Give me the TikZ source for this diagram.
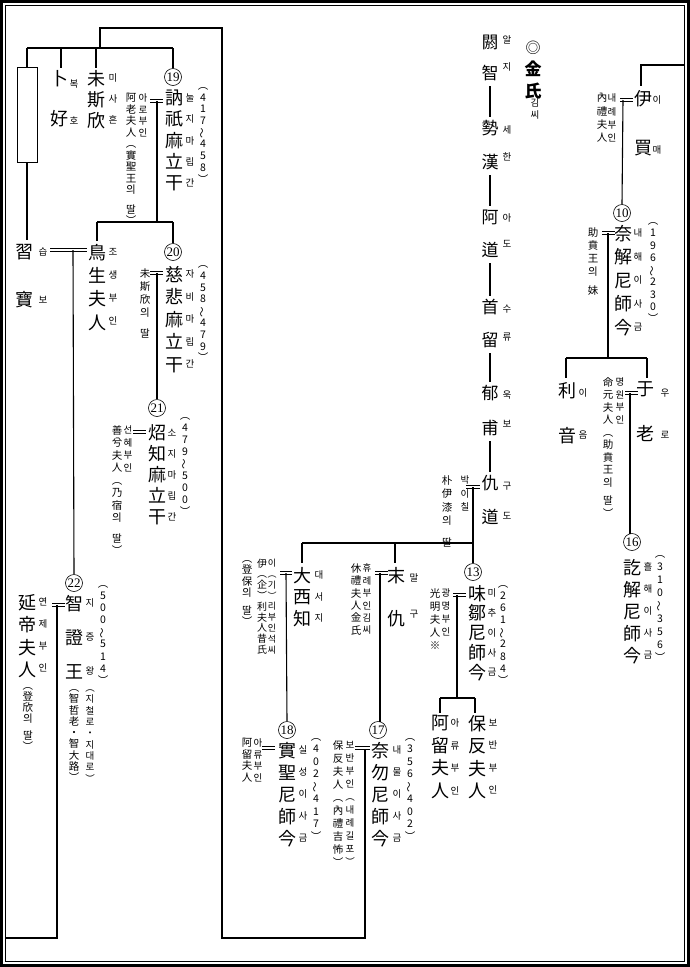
\documentclass[tikz,border=0pt]{standalone}
\usepackage{fontspec}
\usepackage{graphicx}
\setmainfont{Noto Sans CJK KR}
\newfontfamily\serifd{Liberation Serif}
\newcommand\vwave{\rotatebox[origin=c]{90}{～}}
% name, x, y (centre of first glyph), size, line skip, text
\newcommand\vcol[6]{\node[anchor=north,inner sep=0pt,align=center,
  font=\fontsize{#4}{#5}\selectfont,yshift=#4*0.45pt] (#1) at (#2,#3) {#6};}
\tikzset{
  conn/.style={line width=1.1pt},
  dbl/.style={double, double distance=2.2pt, line width=0.7pt},
  circ/.style={circle, draw, line width=0.6pt, minimum size=17pt, inner sep=0pt,
    font=\serifd\fontsize{13}{13}\selectfont},
}
\begin{document}
\begin{tikzpicture}[x=1pt,y=-1pt]
\useasboundingbox (0,0) rectangle (690,967);
% frame
\draw[line width=3pt] (1.5,1.5) rectangle (688.5,965.5);
\draw[line width=0.8pt] (5.5,5.5) rectangle (684,961.5);

% ===== left group =====
\node[draw, line width=0.8pt, minimum width=20pt, minimum height=95pt, inner sep=0pt] (bx) at (27,114.5) {};
\vcol{bok}{59}{78}{18}{40}{卜\\好}
\vcol{bokr}{74}{84}{9.5}{37}{복\\호}
\vcol{misa}{96}{78}{18}{21}{未\\斯\\欣}
\vcol{misar}{113}{78}{9.5}{21}{미\\사\\흔}
\node[circ] (c19) at (173,77) {19};
\vcol{k19}{174}{98}{18}{21.2}{訥\\祇\\麻\\立\\干}
\vcol{k19r}{190}{98}{9.5}{21.2}{눌\\지\\마\\립\\간}
\vcol{y19}{203}{92}{10.5}{11.7}{︵\\4\\1\\7\\\vwave\\4\\5\\8\\︶}
\vcol{w19}{131}{98}{10.5}{11.5}{阿\\老\\夫\\人\\︵\\實\\聖\\王\\의\\[8pt]딸\\︶}
\vcol{w19r}{143}{98}{9.5}{11.5}{아\\로\\부\\인}

\vcol{sb}{25}{252}{18}{48}{習\\寶}
\vcol{sbr}{43}{252}{9.5}{48}{습\\보}
\vcol{jo}{97}{252}{18}{23.3}{鳥\\生\\夫\\人}
\vcol{jor}{113}{252}{9.5}{23.3}{조\\생\\부\\인}
\node[circ] (c20) at (173,252) {20};
\vcol{k20}{174}{274}{18}{22.5}{慈\\悲\\麻\\立\\干}
\vcol{k20r}{190}{274}{9.5}{22.5}{자\\비\\마\\립\\간}
\vcol{y20}{203}{270}{10.5}{11.8}{︵\\4\\5\\8\\\vwave\\4\\7\\9\\︶}
\vcol{w20}{145}{273}{10.5}{13}{未\\斯\\欣\\의\\[8pt]딸}

\node[circ] (c21) at (157,408) {21};
\vcol{k21}{157}{433}{18}{21}{炤\\知\\麻\\立\\干}
\vcol{k21r}{172}{433}{9.5}{21}{소\\지\\마\\립\\간}
\vcol{y21}{185}{422}{10.5}{12}{︵\\4\\7\\9\\\vwave\\5\\0\\0\\︶}
\vcol{w21r}{128}{430}{9.5}{12.5}{선\\혜\\부\\인}
\vcol{w21}{117}{430}{10.5}{12.5}{善\\兮\\夫\\人\\︵\\乃\\宿\\의\\[8pt]딸\\︶}

\node[circ] (c22) at (74,583) {22};
\vcol{k22}{74}{603}{18}{34}{智\\證\\王}
\vcol{k22r}{90}{603}{9.5}{34}{지\\증\\왕}
\vcol{y22}{103}{590}{10.5}{12.1}{︵\\5\\0\\0\\\vwave\\5\\1\\4\\︶}
\vcol{k22a}{74}{694}{10.5}{11.3}{︵\\智\\哲\\老\\・\\智\\大\\路\\︶}
\vcol{k22ar}{90}{694}{9.5}{11.3}{︵\\지\\철\\로\\・\\지\\대\\로\\︶}
\vcol{w22}{28}{602}{18}{22.5}{延\\帝\\夫\\人}
\vcol{w22r}{43}{602}{9.5}{22}{연\\제\\부\\인}
\vcol{w22a}{28}{692}{10.5}{11}{︵\\登\\欣\\의\\[6pt]딸\\︶}

% connectors left group
\coordinate (t1) at (100,28); \coordinate (t2) at (222,28);
\coordinate (t3) at (222,938); \coordinate (t4) at (365,938);
\coordinate (e17) at (365,748);
\coordinate (h1) at (27,48); \coordinate (h2) at (173,48); \coordinate (h0) at (100,48);
\draw[conn] (e17) -- (t4) -- (t3) -- (t2) -- (t1) -- (h0);
\draw[conn] (h1) -- (h2);
\draw[conn] (h1) -- (bx.north);
\draw[conn] (61,48) -- (61,68);
\draw[conn] (96,48) -- (96,68);
\draw[conn] (h2) -- (c19.north);
\draw[conn] (bx.south) -- (27,240);
\coordinate (e19) at (157,101);
\draw[dbl] (150,101) -- (163,101);
\coordinate (h3) at (97,222); \coordinate (h4) at (173,222);
\draw[conn] (e19) -- (157,222);
\draw[conn] (h3) -- (h4);
\draw[conn] (h3) -- (97,241);
\draw[conn] (h4) -- (c20.north);
\draw[dbl] (50,250) -- (87,250);
\draw[conn] (73,250) -- (c22.north);
\draw[dbl] (150,273) -- (163,273);
\draw[conn] (157,273) -- (c21.north);
\draw[dbl] (133,432) -- (146,432);
\draw[dbl] (52,605) -- (65,605);
\draw[conn] (57,605) -- (57,938) -- (5.5,938);

% ===== Kim column =====
\vcol{k1}{490}{42}{17}{31}{閼\\智}
\vcol{k1r}{507}{40}{9.5}{27}{알\\지}
\vcol{k2}{490}{128}{17}{34}{勢\\漢}
\vcol{k2r}{507}{130}{9.5}{27}{세\\한}
\vcol{k3}{490}{217}{17}{33}{阿\\道}
\vcol{k3r}{507}{218}{9.5}{26}{아\\도}
\vcol{k4}{490}{307}{17}{33}{首\\留}
\vcol{k4r}{507}{309}{9.5}{28}{수\\류}
\vcol{k5}{490}{393}{17}{35}{郁\\甫}
\vcol{k5r}{507}{395}{9.5}{29}{욱\\보}
\vcol{k6}{490}{483}{17}{34}{仇\\道}
\vcol{k6r}{507}{486}{9.5}{30}{구\\도}
\coordinate (p1) at (490,86);  \coordinate (p2) at (490,117);
\coordinate (p3) at (490,175); \coordinate (p4) at (490,206);
\coordinate (p5) at (490,263); \coordinate (p6) at (490,296);
\coordinate (p7) at (490,353); \coordinate (p8) at (490,382);
\coordinate (p9) at (490,441); \coordinate (p10) at (490,472);
\draw[conn] (p1) -- (p2);
\draw[conn] (p3) -- (p4);
\draw[conn] (p5) -- (p6);
\draw[conn] (p7) -- (p8);
\draw[conn] (p9) -- (p10);
\node[font=\fontsize{15}{15}\selectfont, inner sep=0pt] (dc) at (533,48) {◎};
\vcol{kim}{533}{68}{17}{22}{\bfseries 金\\\bfseries 氏}
\vcol{kimr}{535}{103}{9.5}{12}{김\\씨}

\vcol{wq}{447}{480}{10.5}{13.5}{朴\\伊\\漆\\의\\[8pt]딸}
\vcol{wqr}{465}{480}{9.5}{13.5}{박\\이\\칠}
\draw[dbl] (466,487) -- (480,487);

% 大西知
\vcol{ds}{302}{575}{18}{21.5}{大\\西\\知}
\vcol{dsr}{319}{575}{9.5}{21.5}{대\\서\\지}
\vcol{dsw}{262}{563}{10}{10.8}{伊\\︵\\企\\︶\\利\\夫\\人\\昔\\氏}
\vcol{dswr}{272}{563}{9}{10.8}{이\\︵\\기\\︶\\리\\부\\인\\석\\씨}
\vcol{dswa}{247}{565}{10.5}{11.5}{︵\\登\\保\\의\\[6pt]딸\\︶}
\draw[dbl] (280,573) -- (292,573);
\node[circ] (c18) at (287,730) {18};
\draw[conn] (286,573) -- (c18.north);
\vcol{k18}{287}{750}{18}{22}{實\\聖\\尼\\師\\今}
\vcol{k18r}{303}{750}{9.5}{22}{실\\성\\이\\사\\금}
\vcol{y18}{316}{743}{10.5}{12.5}{︵\\4\\0\\2\\\vwave\\4\\1\\7\\︶}
\vcol{w18}{247}{743}{10.5}{11.5}{阿\\留\\夫\\人}
\vcol{w18r}{258}{743}{9.5}{11.5}{아\\류\\부\\인}
\draw[dbl] (262,748) -- (275,748);

% 末仇
\vcol{mg}{396}{575}{18}{43}{末\\仇}
\vcol{mgr}{414}{578}{9.5}{36}{말\\구}
\vcol{mgw}{356}{568}{10.5}{12.4}{休\\禮\\夫\\人\\金\\氏}
\vcol{mgwr}{367}{568}{9.5}{12.4}{휴\\례\\부\\인\\김\\씨}
\draw[dbl] (375,573) -- (388,573);
\node[circ] (c17) at (378,730) {17};
\draw[conn] (380,573) -- (380,721.5);
\vcol{k17}{380}{750}{18}{22}{奈\\勿\\尼\\師\\今}
\vcol{k17r}{397}{750}{9.5}{22}{내\\물\\이\\사\\금}
\vcol{y17}{410}{743}{10.5}{12.5}{︵\\3\\5\\6\\\vwave\\4\\0\\2\\︶}
\vcol{w17}{338}{745}{10.5}{13}{保\\反\\夫\\人\\︵\\內\\禮\\吉\\怖\\︶}
\vcol{w17r}{350}{745}{9.5}{13}{보\\반\\부\\인\\︵\\내\\례\\길\\포\\︶}
\draw[dbl] (355,748) -- (370,748);

% 13
\node[circ] (c13) at (473,572) {13};
\coordinate (g1) at (302,543); \coordinate (g2) at (395,543); \coordinate (g3) at (473,543);
\draw[conn] (473,487) -- (g3);
\draw[conn] (g1) -- (g3);
\draw[conn] (g1) -- (302,563);
\draw[conn] (g2) -- (395,563);
\draw[conn] (g3) -- (c13.north);
\vcol{k13}{477}{593}{18}{19.8}{味\\鄒\\尼\\師\\今}
\vcol{k13r}{492}{593}{9.5}{19.8}{미\\추\\이\\사\\금}
\vcol{y13}{503}{590}{10.5}{12.1}{︵\\2\\6\\1\\\vwave\\2\\8\\4\\︶}
\vcol{w13}{435}{593}{10.5}{13}{光\\明\\夫\\人\\※}
\vcol{w13r}{446}{593}{9.5}{13}{광\\명\\부\\인}
\draw[dbl] (453,595) -- (466,595);
\coordinate (a1) at (440,698); \coordinate (a2) at (475,698);
\draw[conn] (457,595) -- (457,698);
\draw[conn] (a1) -- (a2);
\draw[conn] (a1) -- (440,713);
\draw[conn] (a2) -- (475,713);
\vcol{ar}{440}{723}{18}{22.5}{阿\\留\\夫\\人}
\vcol{arr}{455}{723}{9.5}{22.5}{아\\류\\부\\인}
\vcol{bb}{477}{723}{18}{22.5}{保\\反\\夫\\人}
\vcol{bbr}{493}{723}{9.5}{22.5}{보\\반\\부\\인}

% ===== right group =====
\vcol{im}{643}{98}{18}{49}{伊\\買}
\vcol{imr}{657}{100}{9.5}{50}{이\\매}
\vcol{imw}{602}{98}{10.5}{13.3}{內\\禮\\夫\\人}
\vcol{imwr}{612}{98}{9.5}{13.3}{내\\례\\부\\인}
\draw[conn] (684,65) -- (641,65) -- (641,86);
\draw[dbl] (620,100) -- (633,100);
\node[circ] (c10) at (622,213) {10};
\draw[conn] (623,100) -- (c10.north);
\vcol{k10}{623}{233}{18}{23.5}{奈\\解\\尼\\師\\今}
\vcol{k10r}{638}{233}{9.5}{23.5}{내\\해\\이\\사\\금}
\vcol{y10}{653}{227}{10.5}{12.3}{︵\\1\\9\\6\\\vwave\\2\\3\\0\\︶}
\vcol{w10}{593}{232}{10.5}{13}{助\\賁\\王\\의\\[6pt]妹}
\draw[dbl] (602,233) -- (615,233);
\coordinate (r1) at (566,358); \coordinate (r2) at (647,358);
\draw[conn] (608,233) -- (608,358);
\draw[conn] (r1) -- (r2);
\draw[conn] (r1) -- (566,378);
\draw[conn] (r2) -- (647,378);
\vcol{ri}{567}{390}{18}{45}{利\\音}
\vcol{rir}{583}{393}{9.5}{42}{이\\음}
\vcol{ur}{645}{390}{18}{45}{于\\老}
\vcol{urr}{665}{393}{9.5}{42}{우\\로}
\vcol{urw}{608}{382}{10.5}{12.5}{命\\元\\夫\\人\\︵\\助\\賁\\王\\의\\[6pt]딸\\︶}
\vcol{urwr}{620}{382}{9.5}{12.5}{명\\원\\부\\인}
\draw[dbl] (625,393) -- (638,393);
\node[circ] (c16) at (632,542) {16};
\draw[conn] (630,393) -- (630,533.5);
\vcol{k16}{632}{567}{18}{22}{訖\\解\\尼\\師\\今}
\vcol{k16r}{648}{567}{9.5}{22}{흘\\해\\이\\사\\금}
\vcol{y16}{660}{560}{10.5}{13}{︵\\3\\1\\0\\\vwave\\3\\5\\6\\︶}
\end{tikzpicture}
\end{document}
